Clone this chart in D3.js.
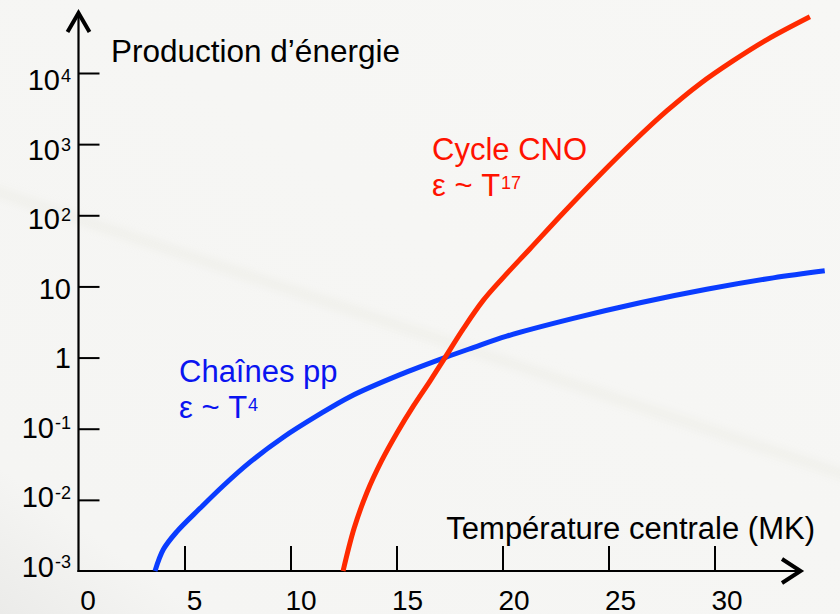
<!DOCTYPE html>
<html>
<head>
<meta charset="utf-8">
<script src="https://cdn.jsdelivr.net/npm/d3@7"></script>
<style>
  html, body { margin: 0; padding: 0; background: #f6f6f4; }
  svg { display: block; }
  text { font-family: "Liberation Sans", Arial, Helvetica, sans-serif; }
</style>
</head>
<body>
<div id="chart"></div>
<script>
// Temperature ticks (MK) and energy-production ticks (log scale)
const xTicks = [0, 5, 10, 15, 20, 25, 30];
const yTicks = [1e-3, 1e-2, 1e-1, 1, 10, 1e2, 1e3, 1e4];
const yTickLabels = [
  ["10", "-3"], ["10", "-2"], ["10", "-1"], ["1", ""],
  ["10", ""], ["10", "2"], ["10", "3"], ["10", "4"]
];

// Chaînes pp : central temperature (MK) and relative energy production
const ppTemp   = [3.61, 4.0, 4.63, 5.73, 6.83, 8.09, 9.66, 11.24, 12.81, 15.17, 17.29, 18.62, 20.2, 23.34, 26.49, 29.63, 32.77, 35.2];
const ppEnergy = [0.001, 0.0020, 0.00355, 0.0076, 0.0158, 0.0339, 0.0759, 0.151, 0.282, 0.575, 1.0, 1.38, 2.0, 3.55, 5.89, 9.12, 13.2, 16.6];

// Cycle CNO
const cnoTemp   = [12.48, 13.0, 13.6, 14.3, 15.02, 15.8, 16.58, 17.29, 18.14, 19.08, 20.02, 21.3, 22.85, 24.6, 26.16, 27.76, 29.32, 30.87, 32.48, 34.5];
const cnoEnergy = [0.001, 0.00398, 0.0126, 0.0355, 0.0871, 0.209, 0.468, 1.0, 2.51, 6.31, 13.2, 33.9, 107, 372, 1072, 2951, 7079, 14790, 29510, 61700];

const W = 840, H = 614;
const svg = d3.select("#chart").append("svg")
  .attr("width", W).attr("height", H);

// background with faint streaks
const defs = svg.append("defs");
const bg = defs.append("linearGradient").attr("id", "bg")
  .attr("x1", 0).attr("y1", 1).attr("x2", 1).attr("y2", 0);
bg.append("stop").attr("offset", "0%").attr("stop-color", "#ebebe9");
bg.append("stop").attr("offset", "12%").attr("stop-color", "#f5f5f3");
bg.append("stop").attr("offset", "100%").attr("stop-color", "#f7f7f5");
defs.append("filter").attr("id", "soft")
  .append("feGaussianBlur").attr("stdDeviation", 5);
svg.append("rect").attr("width", W).attr("height", H).attr("fill", "url(#bg)");
svg.append("line")
  .attr("x1", -20).attr("y1", 186).attr("x2", 860).attr("y2", 480)
  .attr("stroke", "#ebebe4").attr("stroke-width", 9)
  .attr("opacity", 0.6).attr("filter", "url(#soft)");

// scales
const x = d3.scaleLinear().domain([0, 34]).range([78.5, 799.3]);
const y = d3.scaleLog().domain([1e-3, 1e4]).range([571, 73]);
// tick labels sit slightly apart from their tick marks
const xLab = d3.scaleLinear().domain([0, 30]).range([88, 727]);
const yLab = d3.scaleLog().domain([1e-3, 1e4]).range([576.6, 90]);

const x0 = x(0), yBase = y(1e-3);

// tick marks
svg.append("g")
  .attr("transform", `translate(0,${yBase})`)
  .call(d3.axisTop(x).tickValues(xTicks.filter(d => d > 0)).tickSize(25).tickFormat(""))
  .call(g => g.select(".domain").remove())
  .call(g => g.selectAll("line").attr("stroke", "#000").attr("stroke-width", 2));

svg.append("g")
  .attr("transform", `translate(${x0},0)`)
  .call(d3.axisRight(y).tickValues(yTicks.filter(d => d > 1e-3)).tickSize(21).tickFormat(""))
  .call(g => g.select(".domain").remove())
  .call(g => g.selectAll("line").attr("stroke", "#000").attr("stroke-width", 2));

// axis lines with open arrowheads
const axes = svg.append("g").attr("fill", "none").attr("stroke", "#000");
axes.append("line").attr("x1", x0).attr("y1", yBase + 1).attr("x2", x0).attr("y2", 13)
  .attr("stroke-width", 2.2);
axes.append("line").attr("x1", x0 - 1).attr("y1", yBase).attr("x2", 800).attr("y2", yBase)
  .attr("stroke-width", 2.2);
axes.append("path")
  .attr("d", `M${x0 - 11},32 L${x0},13 L${x0 + 11},32`)
  .attr("stroke-width", 4).attr("stroke-linejoin", "miter");
axes.append("path")
  .attr("d", `M782,${yBase - 12} L800.5,${yBase} L782,${yBase + 12}`)
  .attr("stroke-width", 4).attr("stroke-linejoin", "miter");

// x tick labels
svg.append("g").selectAll("text").data(xTicks).join("text")
  .attr("x", d => xLab(d)).attr("y", 610)
  .attr("text-anchor", "middle").attr("font-size", 28).attr("fill", "#000")
  .text(d => d);

// y tick labels with superscript exponents
const yl = svg.append("g").selectAll("text").data(yTicks).join("text")
  .attr("x", 71).attr("y", d => yLab(d))
  .attr("text-anchor", "end").attr("font-size", 29).attr("fill", "#000");
yl.append("tspan").text((d, i) => yTickLabels[i][0]);
yl.filter((d, i) => yTickLabels[i][1] !== "")
  .append("tspan").attr("font-size", 18).attr("dx", 1).attr("dy", -8.5)
  .text(d => yTickLabels[yTicks.indexOf(d)][1]);

// axis titles
svg.append("text").attr("x", 111).attr("y", 62)
  .attr("font-size", 31.5).attr("fill", "#000").text("Production d’énergie");
svg.append("text").attr("x", 815).attr("y", 539).attr("text-anchor", "end")
  .attr("font-size", 31).attr("fill", "#000").text("Température centrale (MK)");

// curves
const line = d3.line()
  .x(d => x(d[0])).y(d => y(d[1]))
  .curve(d3.curveCatmullRom.alpha(0.5));

svg.append("path")
  .datum(d3.zip(ppTemp, ppEnergy))
  .attr("d", line).attr("fill", "none")
  .attr("stroke", "#0a3cff").attr("stroke-width", 5);

svg.append("path")
  .datum(d3.zip(cnoTemp, cnoEnergy))
  .attr("d", line).attr("fill", "none")
  .attr("stroke", "#ff2a00").attr("stroke-width", 5);

// annotations
function note(xp, yp, title, exp, color) {
  const g = svg.append("g").attr("fill", color).attr("font-size", 31);
  g.append("text").attr("x", xp).attr("y", yp).text(title);
  const t = g.append("text").attr("x", xp).attr("y", yp + 36.5);
  t.append("tspan").text("ε ~ T");
  t.append("tspan").attr("font-size", 18).attr("dx", 1).attr("dy", -7).text(exp);
}
note(179, 381.5, "Chaînes pp", "4", "#0a14f0");
note(432, 159.5, "Cycle CNO", "17", "#ff1200");
</script>
</body>
</html>
